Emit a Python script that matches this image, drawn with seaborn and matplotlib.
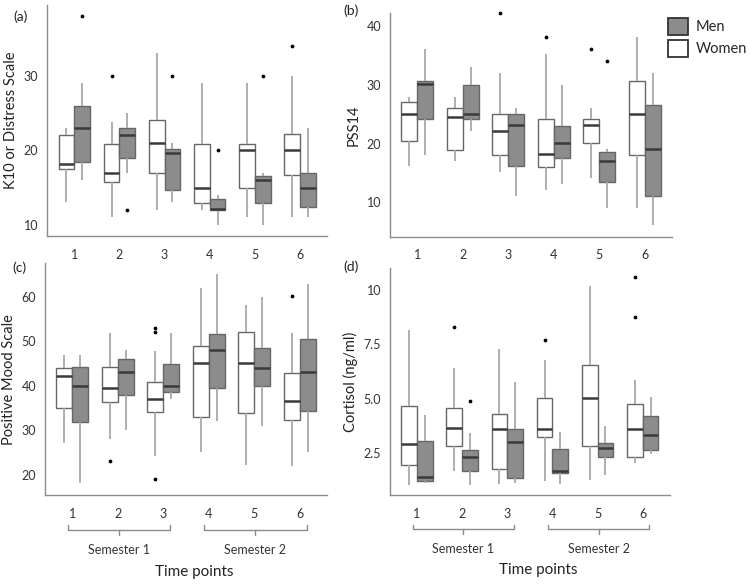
import numpy as np
import pandas as pd
import matplotlib.pyplot as plt
from matplotlib import transforms
from matplotlib.patches import Patch
import seaborn as sns

TIME_POINTS = ['1', '2', '3', '4', '5', '6']
SEXES = ['Women', 'Men']
SEMESTERS = {'Semester 1': ['1', '2', '3'], 'Semester 2': ['4', '5', '6']}

# five-number summaries:
# (low whisker, Q1, median, Q3, high whisker), one tuple per time point
K10_WOMEN = [(13.1, 17.5, 18.1, 22.0, 23.0), (11.1, 15.7, 17.0, 20.9, 23.8),
             (12.0, 17.0, 21.0, 24.0, 33.0), (12.0, 13.0, 15.0, 20.9, 29.0),
             (11.1, 15.0, 20.0, 20.9, 29.0), (11.0, 16.7, 20.0, 22.2, 30.0)]
K10_MEN = [(16.0, 18.4, 23.0, 25.9, 29.0), (17.0, 19.0, 22.0, 23.0, 25.0),
           (13.1, 14.7, 19.6, 20.2, 21.0), (10.0, 12.0, 12.2, 13.5, 14.0),
           (10.0, 13.0, 16.0, 16.5, 17.0), (11.0, 12.4, 15.0, 17.0, 23.0)]
K10_OUT_WOMEN = [[], [30], [], [], [], [34]]
K10_OUT_MEN = [[38], [12], [30], [20], [30], []]

PSS_WOMEN = [(16.1, 20.5, 25.0, 27.1, 28.0), (17.1, 18.9, 24.5, 26.1, 28.0),
             (15.1, 18.1, 22.1, 25.0, 32.1), (12.0, 16.0, 18.2, 24.2, 35.2),
             (14.1, 20.1, 23.2, 24.2, 26.1), (9.0, 18.0, 25.0, 30.6, 38.2)]
PSS_MEN = [(18.1, 24.2, 30.2, 30.6, 36.1), (22.1, 24.2, 25.0, 30.0, 33.1),
           (11.0, 16.2, 23.1, 25.0, 26.1), (13.1, 17.5, 20.1, 23.0, 30.0),
           (9.0, 13.4, 17.1, 18.6, 19.0), (6.1, 11.0, 19.1, 26.6, 32.1)]
PSS_OUT_WOMEN = [[], [], [42.2], [38.2], [36.1], []]
PSS_OUT_MEN = [[], [], [], [], [34.1], []]

MOOD_WOMEN = [(27.2, 35.0, 42.1, 44.0, 46.9), (28.1, 36.4, 39.5, 44.2, 51.9),
              (24.2, 34.0, 37.0, 40.8, 47.9), (25.1, 33.0, 45.1, 49.0, 62.1),
              (22.1, 33.9, 45.1, 52.0, 58.1), (21.9, 32.2, 36.5, 42.8, 51.9)]
MOOD_MEN = [(18.2, 31.9, 40.0, 44.3, 47.0), (30.0, 38.0, 43.1, 46.0, 48.1),
            (37.1, 38.7, 40.0, 44.9, 51.9), (32.0, 39.5, 48.1, 51.6, 65.1),
            (31.0, 39.9, 44.1, 48.5, 60.0), (25.1, 34.4, 43.1, 50.5, 63.0)]
MOOD_OUT_WOMEN = [[], [23.0], [53.1, 52.0, 19.0], [], [], [60.1]]
MOOD_OUT_MEN = [[], [], [], [], [], []]

CORT_WOMEN = [(1.03, 1.95, 2.92, 4.64, 8.16), (1.69, 2.84, 3.64, 4.56, 6.40),
              (1.10, 1.76, 3.60, 4.28, 7.27), (1.22, 3.25, 3.62, 5.02, 6.78),
              (1.26, 2.84, 5.02, 6.54, 10.18), (2.06, 2.31, 3.61, 4.76, 5.86)]
CORT_MEN = [(1.14, 1.22, 1.42, 3.07, 4.25), (1.03, 1.69, 2.31, 2.64, 3.41),
            (1.14, 1.34, 3.00, 3.60, 5.78), (1.08, 1.60, 1.69, 2.69, 3.49),
            (1.49, 2.34, 2.72, 2.95, 3.75), (2.46, 2.64, 3.32, 4.18, 5.07)]
CORT_OUT_WOMEN = [[], [8.27], [], [7.7], [], [8.73, 10.58]]
CORT_OUT_MEN = [[], [4.9], [], [], [], []]

# each summary value is repeated so that seaborn recomputes the same quartiles
REPEAT = 10
PALETTE = {'Women': 'white', 'Men': '#8c8c8c'}
GREY = '#8a8a8a'


def long_table(women, men, out_women, out_men):
    rows = []
    for sex, summaries, outliers in (('Women', women, out_women), ('Men', men, out_men)):
        for tp, five, extra in zip(TIME_POINTS, summaries, outliers):
            for v in list(np.repeat(five, REPEAT)) + list(extra):
                rows.append((tp, sex, float(v)))
    return pd.DataFrame(rows, columns=['time', 'sex', 'value'])


def draw_panel(ax, df, ylim, yticks, yticklabels, ylabel, bottom=False):
    sns.boxplot(data=df, x='time', y='value', hue='sex', order=TIME_POINTS,
                hue_order=SEXES, palette=PALETTE, width=0.7, gap=0, dodge=True,
                linewidth=1.0, linecolor='#666666', showcaps=False, legend=False,
                medianprops=dict(color='#3a3a3a', linewidth=1.8),
                whiskerprops=dict(color='#a8a8a8', linewidth=1.3),
                flierprops=dict(marker='o', markersize=1.7, markerfacecolor='black',
                                markeredgecolor='black', clip_on=False),
                ax=ax)
    sns.despine(ax=ax)
    for side in ('left', 'bottom'):
        ax.spines[side].set_color(GREY)
        ax.spines[side].set_linewidth(1.0)
    ax.set_xlim(-0.6, 5.6)
    ax.set_ylim(*ylim)
    ax.set_yticks(yticks)
    ax.set_yticklabels(yticklabels)
    ax.set_xlabel('')
    ax.set_ylabel(ylabel, fontsize=10.5, color='#222222')
    ax.tick_params(length=3, width=0.8, color=GREY, labelsize=9, labelcolor='#333333')
    ax.tick_params(axis='x', pad=6)

    if bottom:
        trans = transforms.blended_transform_factory(ax.transData, ax.transAxes)
        for label, members in SEMESTERS.items():
            x0 = TIME_POINTS.index(members[0]) - 0.1
            x1 = TIME_POINTS.index(members[-1]) + 0.15
            mid = (x0 + x1) / 2
            ax.plot([x0, x0, x1, x1], [-0.13, -0.15, -0.15, -0.13], transform=trans,
                    clip_on=False, color=GREY, lw=1.0)
            ax.plot([mid, mid], [-0.15, -0.17], transform=trans, clip_on=False,
                    color=GREY, lw=1.0)
            ax.text(mid, -0.235, label, transform=trans, ha='center', va='center',
                    fontsize=9, color='#333333')
        ax.text(0.53, -0.33, 'Time points', transform=ax.transAxes, ha='center',
                va='center', fontsize=11, color='#222222')


sns.set_style('white')
plt.rcParams['font.family'] = ['Lato', 'DejaVu Sans']

fig = plt.figure(figsize=(7.5, 5.86), dpi=100)
ax_a = fig.add_axes([0.063, 0.597, 0.373, 0.394])
ax_b = fig.add_axes([0.520, 0.596, 0.376, 0.382])
ax_c = fig.add_axes([0.060, 0.155, 0.376, 0.396])
ax_d = fig.add_axes([0.520, 0.155, 0.373, 0.388])

draw_panel(ax_a, long_table(K10_WOMEN, K10_MEN, K10_OUT_WOMEN, K10_OUT_MEN),
           (8.5, 39.4), [10, 20, 30], ['10', '20', '30'], 'K10 or Distress Scale')
draw_panel(ax_b, long_table(PSS_WOMEN, PSS_MEN, PSS_OUT_WOMEN, PSS_OUT_MEN),
           (4.1, 42.3), [10, 20, 30, 40], ['10', '20', '30', '40'], 'PSS14')
draw_panel(ax_c, long_table(MOOD_WOMEN, MOOD_MEN, MOOD_OUT_WOMEN, MOOD_OUT_MEN),
           (15.4, 67.6), [20, 30, 40, 50, 60], ['20', '30', '40', '50', '60'],
           'Positive Mood Scale', bottom=True)
draw_panel(ax_d, long_table(CORT_WOMEN, CORT_MEN, CORT_OUT_WOMEN, CORT_OUT_MEN),
           (0.57, 11.0), [2.5, 5.0, 7.5, 10], ['2.5', '5.0', '7.5', '10'],
           'Cortisol (ng/ml)', bottom=True)

for letter, (x, y) in zip(['(a)', '(b)', '(c)', '(d)'],
                          [(13, 17), (343, 11), (12, 268), (343, 267)]):
    fig.text(x / 750, 1 - y / 586, letter, ha='left', va='center', fontsize=10,
             color='#222222')

handles = [Patch(facecolor=PALETTE['Men'], edgecolor='#333333', lw=1.3, label='Men'),
           Patch(facecolor=PALETTE['Women'], edgecolor='#333333', lw=1.3, label='Women')]
fig.legend(handles=handles, loc='upper left', bbox_to_anchor=(668 / 750, 1 - 18 / 586),
           frameon=False, fontsize=10.5, handlelength=1.4, handleheight=1.4,
           handletextpad=0.5, borderpad=0, borderaxespad=0, labelspacing=0.35)

fig.savefig('out.png', dpi=100)
